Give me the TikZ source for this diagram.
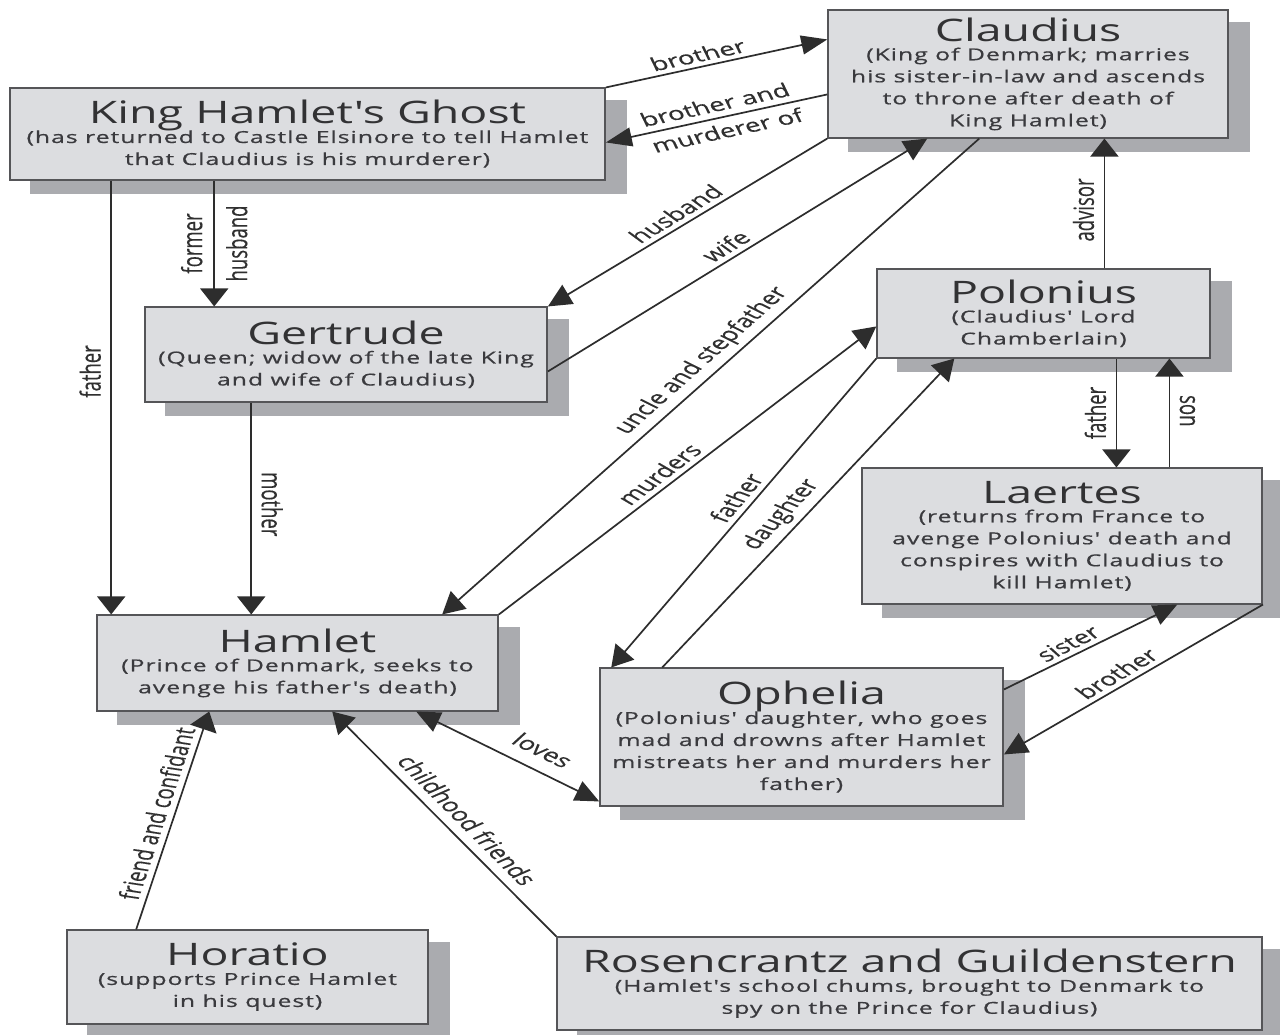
\documentclass[tikz,border=0pt]{standalone}
\usepackage{fontspec}
\usetikzlibrary{arrows.meta,calc,backgrounds}
\newfontfamily\bxfont{Open Sans}
\newfontfamily\bxsubfont[LetterSpace=4,FakeBold=0.6]{Open Sans}
\newfontfamily\lbfont[FakeBold=0.3]{Open Sans}
\definecolor{boxfill}{RGB}{220,221,224}
\definecolor{shadowc}{RGB}{170,171,175}
\definecolor{boxline}{RGB}{85,85,88}
\definecolor{linec}{RGB}{45,45,45}
\definecolor{titlec}{RGB}{50,50,52}
\definecolor{subc}{RGB}{58,58,62}
\definecolor{labc}{RGB}{48,48,48}
\newcommand\bxtitle{\bxfont\fontsize{31}{31}\selectfont\color{titlec}}
\newcommand\bxsub{\bxsubfont\fontsize{16.5}{22}\selectfont}
\tikzset{
  box/.style={draw=boxline, line width=1.1pt, fill=boxfill, inner sep=0pt,
    align=center, font=\bxsub, text=subc},
  dim/.style 2 args={minimum width=#1pt/1.5, minimum height=#2pt},
  cn/.style={draw=linec, line width=1.7pt},
  arr/.style 2 args={-{Triangle[length=#1pt,width=#2pt]}},
  lbl/.style={font=\lbfont\fontsize{18.5}{24}\selectfont, text=labc, inner sep=4pt},
  lblv/.style={lbl, inner sep=6pt},
}
\begin{document}
\begin{tikzpicture}[x=0.6666667pt, y=-1pt]
\begin{scope}[xscale=1.5, every node/.append style={transform shape}]
\useasboundingbox (0,0) rectangle (1280,1035);

% boxes
\node[box, dim={595}{92}] (ghost) at (307.5,134)
  {{\bxtitle King Hamlet's Ghost}\\[-3pt](has returned to Castle Elsinore to tell Hamlet\\that Claudius is his murderer)};
\node[box, dim={400}{128}] (claud) at (1028,74)
  {{\bxtitle Claudius}\\[-3pt](King of Denmark; marries\\his sister-in-law and ascends\\to throne after death of\\King Hamlet)};
\node[box, dim={402}{95}] (gert) at (346,354.5)
  {{\bxtitle Gertrude}\\[-3pt](Queen; widow of the late King\\and wife of Claudius)};
\node[box, dim={333}{89}] (polo) at (1043.5,313.5)
  {{\bxtitle Polonius}\\[-3pt](Claudius' Lord\\Chamberlain)};
\node[box, dim={400}{136}] (laer) at (1062,536)
  {{\bxtitle Laertes}\\[-3pt](returns from France to\\avenge Polonius' death and\\conspires with Claudius to\\kill Hamlet)};
\node[box, dim={401}{96}] (hamlet) at (297.5,663)
  {{\bxtitle Hamlet}\\[-3pt](Prince of Denmark, seeks to\\avenge his father's death)};
\node[box, dim={403}{138}] (oph) at (801.5,737)
  {{\bxtitle Ophelia}\\[-3pt](Polonius' daughter, who goes\\mad and drowns after Hamlet\\mistreats her and murders her\\father)};
\node[box, dim={361}{94}] (hor) at (247.5,977)
  {{\bxtitle Horatio}\\[-3pt](supports Prince Hamlet\\in his quest)};
\node[box, dim={705}{93}] (rg) at (909.5,983.5)
  {{\bxtitle Rosencrantz and Guildenstern}\\[-3pt](Hamlet's school chums, brought to Denmark to\\spy on the Prince for Claudius)};

\begin{pgfonlayer}{background}
  \fill[white] (0,0) rectangle (1280,1035);
  \foreach \n in {ghost,claud,gert,polo,laer,hamlet,oph,hor,rg}
    \fill[shadowc] ($(\n.north west)+(21,13)$) rectangle ($(\n.south east)+(21,13)$);
\end{pgfonlayer}

% vertical connector start points
\coordinate (p9) at ($(polo.north west)+(228,0)$);
\coordinate (p10) at ($(polo.south west)+(240,0)$);
\coordinate (p11) at ($(laer.north west)+(308,0)$);
\coordinate (p14) at ($(ghost.south west)+(102,0)$);
\coordinate (p15) at ($(ghost.south west)+(205,0)$);
\coordinate (p16) at ($(gert.south west)+(107,0)$);

% connectors
\draw[cn, arr={26}{19}] (ghost.north east) -- node[lbl, pos=.44, anchor=south, rotate=17.9] (l1) {brother} ($(claud.north west)+(0,30)$);
\draw[cn, arr={26}{19}] ($(claud.north west)+(0,85)$) -- node[lbl, font=\lbfont\fontsize{18.5}{27}\selectfont, align=center, inner sep=0pt, pos=.48, rotate=17.9] (l2) {brother and\\murderer of} ($(ghost.north east)+(0,55)$);
\draw[cn, arr={23.5}{22}] (claud.south west) -- node[lbl, pos=.5, anchor=south, rotate=42.1] (l3) {husband} (gert.north east);
\draw[cn, arr={23.5}{22}] ($(gert.north east)+(0,65)$) -- node[lbl, pos=.5, anchor=south, rotate=42.4] (l4) {wife} ($(claud.south west)+(100,0)$);
\draw[cn, arr={22}{23.5}] ($(claud.south west)+(152,0)$) -- node[lbl, pos=.485, anchor=south, rotate=53] (l5) {uncle and stepfather} ($(hamlet.north west)+(346,0)$);
\draw[cn, arr={22.5}{23}] (hamlet.north east) -- node[lbl, pos=.46, anchor=south, rotate=48.7] (l6) {murders} ($(polo.north west)+(0,58)$);
\draw[cn, arr={21}{24.5}] (polo.south west) -- node[lbl, pos=.47, anchor=south, rotate=60.3] (l7) {father} ($(oph.north west)+(12,0)$);
\draw[cn, arr={21}{24.5}] ($(oph.north west)+(63,0)$) -- node[lbl, pos=.47, anchor=south, rotate=57.7] (l8) {daughter} ($(polo.south west)+(78,0)$);
\draw[cn, arr={18}{28}] (p9) -- node[lblv, pos=.45, anchor=south, rotate=90] (l9) {advisor} (p9 |- claud.south);
\draw[cn, arr={18}{28}] (p10) -- node[lblv, pos=.5, anchor=south, rotate=90] (l10) {father} (p10 |- laer.north);
\draw[cn, arr={18}{28}] (p11) -- node[lblv, pos=.52, anchor=south, rotate=-90] (l11) {son} (p11 |- polo.south);
\draw[cn, arr={24}{21}] ($(oph.north east)+(0,22)$) -- node[lbl, pos=.43, anchor=south, rotate=36.4] (l12) {sister} ($(laer.south west)+(316,0)$);
\draw[cn, arr={23.5}{22}] (laer.south east) -- node[lbl, pos=.52, anchor=south, rotate=41.2] (l13) {brother} ($(oph.north east)+(0,87)$);
\draw[cn, arr={18}{28}] (p14) -- node[lblv, pos=.44, anchor=south, rotate=90] (l14) {father} (p14 |- hamlet.north);
\draw[cn, arr={18}{28}] (p15) -- node[lbl, font=\lbfont\fontsize{18.5}{30}\selectfont, align=center, inner sep=0pt, pos=.5, rotate=90] (l15) {former\\husband} (p15 |- gert.north);
\draw[cn, arr={18}{28}] (p16) -- node[lblv, pos=.48, anchor=south, rotate=-90] (l16) {mother} (p16 |- hamlet.north);
\draw[cn, {Triangle[length=24pt,width=21pt]}-{Triangle[length=24pt,width=21pt]}] ($(hamlet.south west)+(320,0)$) -- node[lbl, inner sep=11pt, pos=.6, anchor=south, rotate=-36.1] (l17) {loves} ($(oph.north west)+(0,134)$);
\draw[cn, arr={18.5}{27.5}] ($(hor.north west)+(70,0)$) -- node[lbl, pos=.52, anchor=south, rotate=77.4] (l18) {friend and confidant} ($(hamlet.south west)+(113,0)$);
\draw[cn, arr={21}{24.5}] (rg.north west) -- node[lbl, inner sep=7pt, pos=.48, anchor=south, rotate=-56.3] (l19) {childhood friends} ($(hamlet.south west)+(236,0)$);
\end{scope}
\end{tikzpicture}
\end{document}
